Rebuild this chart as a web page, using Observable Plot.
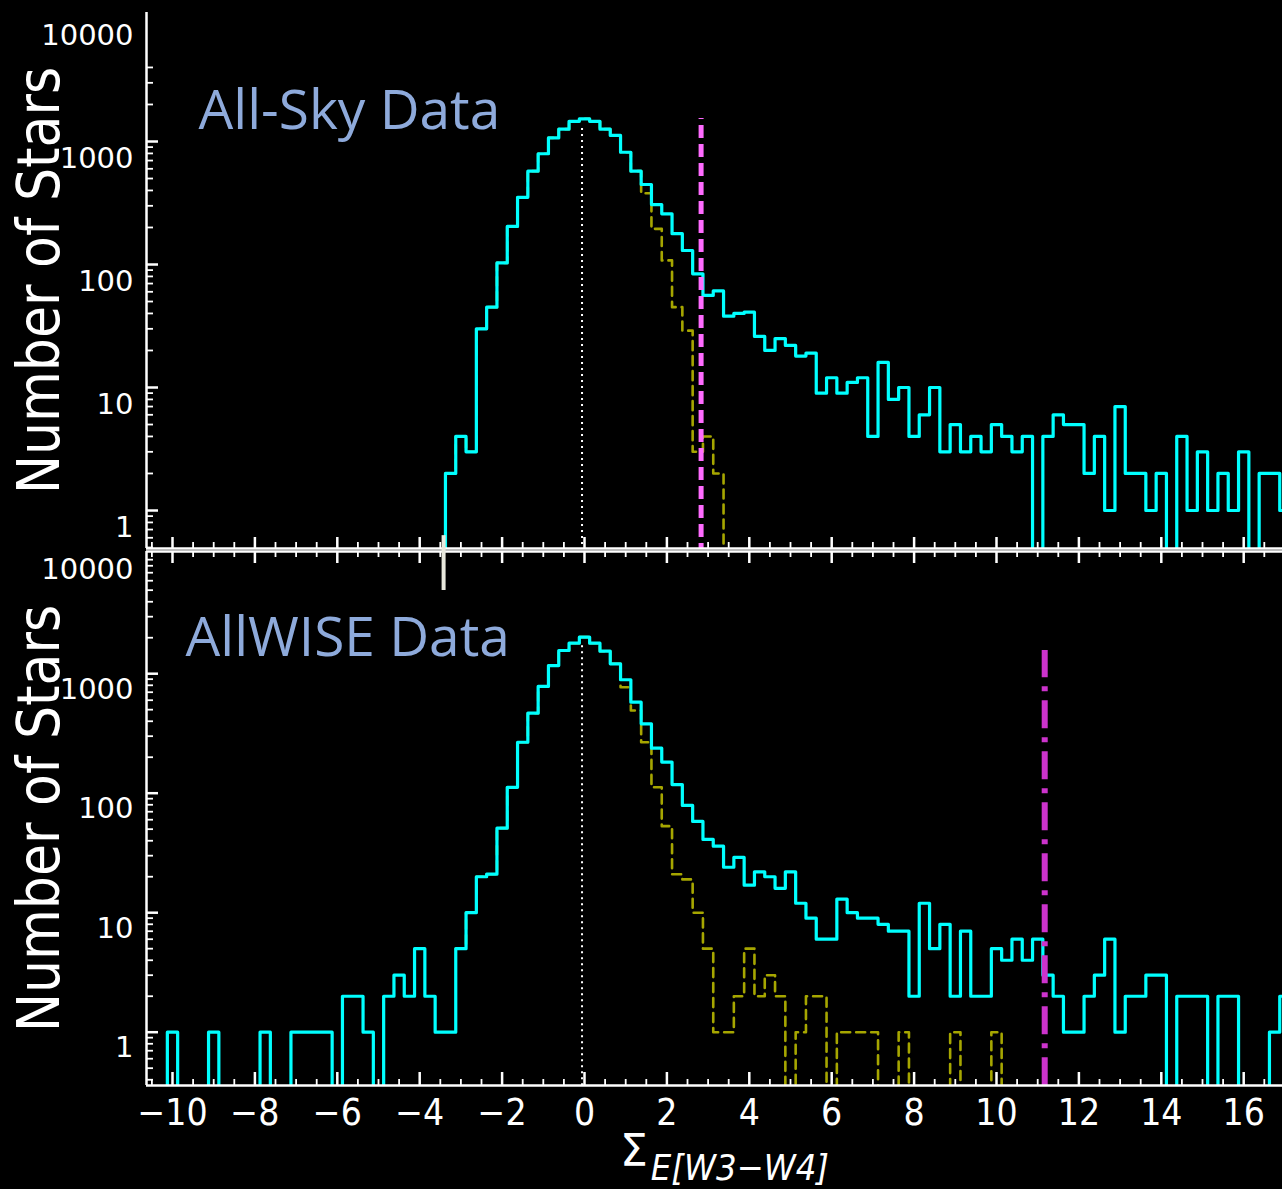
<!DOCTYPE html>
<html>
<head>
<meta charset="utf-8">
<script src="https://cdn.jsdelivr.net/npm/d3@7"></script>
<script src="https://cdn.jsdelivr.net/npm/@observablehq/plot@0.6"></script>
<style>
  html, body { margin: 0; padding: 0; background: #000; }
  #wrap { position: relative; width: 1282px; height: 1189px; overflow: hidden; background: #000; }
  #wrap svg { position: absolute; left: 0; }
</style>
</head>
<body>
<div id="wrap"></div>
<script>
// ---------------- DATA ----------------
const binWidth = 0.25;

// All-Sky panel: total sample (cyan) and photospheric model (olive dashed)
const skyFirstBin = -3.25;
const skyAll = [2,4,3,30,45,103,204,352,574,795,1070,1260,1460,1530,1460,1260,1120,818,574,447,307,258,178,130,84,56,61,38,
  40,41,26,20,25,22,18,19,9,12,9,11,12,4,16,8,10,4,6,10,3,5,3,4,3,5,4,3,4,0,4,6,5,5,2,4,1,7,2,2,1,2,0,4,1,3,1,2,1,3,0,2,2,1];
const skyPhotFirstBin = -3.25;
const skyPhot = [2,4,3,30,45,103,204,352,574,795,1070,1260,1460,1530,1460,1260,1120,818,574,380,195,108,45,29,3,4,2,0];

// AllWISE panel
const wiseFirstBin = -10;
const wiseAll = [1,0,0,0,1,0,0,0,0,1,0,0,1,1,1,1,0,2,2,1,0,2,3,2,5,2,1,1,5,10,20,21,51,112,267,467,782,1170,1564,1800,2023,1800,1543,1210,890,578,381,238,182,118,79,58,41,36,24,29,17,22,20,16,22,12,9,6,6,13,10,9,9,8,7,7,2,12,5,8,2,7,2,2,5,4,6,4,6,3,2,1,1,2,3,6,1,2,2,3,3,0,2,2,2,0,2,2,0,0,0,1,2];
const wisePhotFirstBin = -3.0;
const wisePhot = [5,10,20,21,51,112,267,467,782,1170,1564,1800,2023,1800,1543,1210,771,492,267,112,53,21,19,10,5,1,1,2,5,2,3,2,0,1,2,2,0,1,1,1,1,0,0,1,0,0,0,0,1,0,0,0,1,0];

// reference lines
const skyPeakLine = [{x: -0.06, top: 1350}];
const wisePeakLine = [{x: -0.06, top: 1720}];
const skyCut = [{x: 2.83, top: 1535}];
const wiseCut = [{x: 11.17, top: 1564}];
const markerBar = [{x: -3.42, lo: 4970, hi: 14300}];

// ticks
const xTicks = [-10,-8,-6,-4,-2,0,2,4,6,8,10,12,14,16];
const xMinorTicks = d3.range(-10.5, 17.01, 0.5).filter(v => Math.abs(v % 2) > 1e-9);
const yTicks = [1, 10, 100, 1000, 10000];
const yTickLabels = ["1", "10", "100", "1000", "10000"];
const yMinorMult = [2,3,4,5,6,7,8,9];

// ---------------- LAYOUT ----------------
const W = 1282;
const frameLeft = 146, zeroX = 584, pxPerUnit = 41.2;
const XMIN = (frameLeft - zeroX) / pxPerUnit;
const XMAX = (W - zeroX) / pxPerUnit;

const T = {svgTop: 0, height: 560, frameTop: 12, frameBottom: 548, oneY: 510, dec: 123};
const B = {svgTop: 520, height: 669, frameTop: 551, frameBottom: 1085, oneY: 1031.7, dec: 119.5};
for (const P of [T, B]) {
  P.ymin = Math.pow(10, (P.oneY - P.frameBottom) / P.dec);
  P.ymax = Math.pow(10, (P.oneY - P.frameTop) / P.dec);
  P.marginTop = P.frameTop - P.svgTop;
  P.marginBottom = P.height - (P.frameBottom - P.svgTop);
  P.up = px => Math.pow(10, px / P.dec);
}
const FLOOR = 0.05;

function stepPoints(first, values, fromBase) {
  const x0 = first - binWidth / 2;
  const pts = [];
  if (fromBase) pts.push({x: x0, y: FLOOR});
  values.forEach((v, i) => pts.push({x: x0 + i * binWidth, y: v > 0 ? v : FLOOR}));
  const last = values[values.length - 1];
  pts.push({x: x0 + values.length * binWidth, y: last > 0 ? last : FLOOR});
  return pts;
}

const CYAN = "#00ffff", OLIVE = "#a6a600", AXIS = "#ffffff";
const tickFont = "DejaVu Sans Condensed";

function minorYTicks(P, maxVal) {
  const out = [];
  for (const d of [0.1, 1, 10, 100, 1000]) for (const m of yMinorMult) {
    const v = d * m;
    if (v > P.ymin && v < P.ymax && v <= maxVal) out.push(v);
  }
  return out;
}

function panel(P, opts) {
  const tickLen = px => px / pxPerUnit;
  const marks = [
    Plot.ruleX(opts.peak, {x: "x", y1: FLOOR, y2: "top", stroke: "#ffffff", strokeWidth: 2, strokeDasharray: "2,4", clip: true}),
    Plot.line(stepPoints(opts.photFirst, opts.phot, false), {x: "x", y: "y", curve: "step-after", stroke: OLIVE, strokeWidth: 2.6, strokeDasharray: "9,6", clip: true}),
    Plot.line(stepPoints(opts.allFirst, opts.all, true), {x: "x", y: "y", curve: "step-after", stroke: CYAN, strokeWidth: 3.2, clip: true}),
    Plot.ruleX(opts.cut, {x: "x", y1: FLOOR, y2: "top", stroke: opts.cutColor, strokeWidth: opts.cutWidth, strokeDasharray: opts.cutDash, clip: true}),
    Plot.ruleX([XMIN], {x: d => d, y1: P.ymin, y2: P.ymax, stroke: AXIS, strokeWidth: 2.5}),
    Plot.ruleY([P.ymin], {y: d => d, x1: XMIN, x2: XMAX, stroke: AXIS, strokeWidth: 2.5}),
    Plot.ruleY(yTicks.filter(v => v > P.ymin && v < P.ymax * 0.999 && v <= opts.yTickMax), {y: d => d, x1: XMIN, x2: XMIN + tickLen(12), stroke: AXIS, strokeWidth: 2.5}),
    Plot.ruleY(minorYTicks(P, opts.yMinorMax), {y: d => d, x1: XMIN, x2: XMIN + tickLen(7), stroke: AXIS, strokeWidth: 1.8}),
    Plot.ruleX(xTicks, {x: d => d, y1: P.ymin, y2: P.ymin * P.up(opts.xMajorUp), stroke: AXIS, strokeWidth: 2.5}),
    Plot.ruleX(xMinorTicks, {x: d => d, y1: P.ymin, y2: P.ymin * P.up(6), stroke: AXIS, strokeWidth: 1.8}),
    Plot.text(yTicks, {x: XMIN, y: d => d, text: (d, i) => yTickLabels[i], textAnchor: "end", dx: -13, dy: opts.labelDy,
      fill: "#ffffff", fontSize: 29, fontFamily: "DejaVu Sans"}),
    Plot.text(["Number of Stars"], {text: d => d, frameAnchor: "left", rotate: -90, dx: 58 - frameLeft, lineAnchor: "bottom",
      textAnchor: "middle", fill: "#ffffff", fontSize: 58, fontFamily: tickFont}),
    Plot.text([opts.title], {text: d => d, frameAnchor: "top-left", textAnchor: "start", lineAnchor: "bottom",
      dx: opts.titleX - frameLeft, dy: opts.titleBase - P.frameTop, fill: "#8EAADB", fontSize: 55, fontFamily: "Open Sans"})
  ];
  if (opts.extra) marks.push(...opts.extra);
  return Plot.plot({
    width: W, height: P.height,
    marginTop: P.marginTop, marginBottom: P.marginBottom, marginLeft: frameLeft, marginRight: 0,
    style: {background: "transparent", color: "#ffffff", overflow: "visible"},
    x: {domain: [XMIN, XMAX], axis: null},
    y: {type: "log", domain: [P.ymin, P.ymax], axis: null},
    marks
  });
}

const topSvg = panel(T, {
  all: skyAll, allFirst: skyFirstBin, phot: skyPhot, photFirst: skyPhotFirstBin,
  peak: skyPeakLine, cut: skyCut, cutColor: "#ff6bff", cutWidth: 5, cutDash: "13,6",
  yTickMax: 1000, yMinorMax: 4000, xMajorUp: 11, labelDy: 17,
  title: "All-Sky Data", titleX: 198, titleBase: 128
});

const botSvg = panel(B, {
  all: wiseAll, allFirst: wiseFirstBin, phot: wisePhot, photFirst: wisePhotFirstBin,
  peak: wisePeakLine, cut: wiseCut, cutColor: "#cc33cc", cutWidth: 6, cutDash: "28,9,5,9",
  yTickMax: 1000, yMinorMax: 9000, xMajorUp: 13, labelDy: 16,
  title: "AllWISE Data", titleX: 185, titleBase: 655,
  extra: [
    Plot.ruleY([B.ymax], {y: d => d, x1: XMIN, x2: XMAX, stroke: AXIS, strokeWidth: 2.5}),
    Plot.ruleX(xTicks, {x: d => d, y1: B.ymax / B.up(12), y2: B.ymax, stroke: AXIS, strokeWidth: 2.5}),
    Plot.ruleX(xMinorTicks, {x: d => d, y1: B.ymax / B.up(6), y2: B.ymax, stroke: AXIS, strokeWidth: 1.8}),
    Plot.ruleX(markerBar, {x: "x", y1: "lo", y2: "hi", stroke: "#e8e8dc", strokeWidth: 4}),
    Plot.text(xTicks, {x: d => d, y: B.ymin, dy: 39, lineAnchor: "bottom",
      text: d => (d < 0 ? "\u2212" + Math.abs(d) : String(d)), fill: "#ffffff", fontSize: 37, fontFamily: tickFont})
  ]
});

topSvg.style.top = T.svgTop + "px";
botSvg.style.top = B.svgTop + "px";
document.getElementById("wrap").append(topSvg, botSvg);

// x axis title: Sigma with subscript
const title = d3.select(botSvg).append("text")
  .attr("x", 620).attr("y", 1166 - B.svgTop)
  .attr("text-anchor", "start")
  .attr("fill", "#ffffff").attr("font-family", tickFont);
title.append("tspan").attr("font-size", 44).attr("font-family", "DejaVu Sans").text("\u03A3");
title.append("tspan").attr("font-size", 36).attr("font-style", "italic").attr("dx", 3).attr("dy", 14).text("E[W3\u2212W4]");
</script>
</body>
</html>
